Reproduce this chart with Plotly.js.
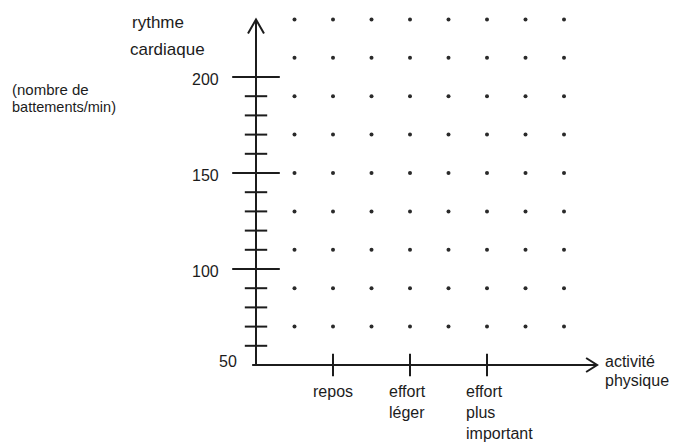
<!DOCTYPE html>
<html>
<head>
<meta charset="utf-8">
<script src="https://cdn.plot.ly/plotly-3.0.1.min.js"></script>
<style>html,body{margin:0;padding:0;background:#fff;}#chart{width:681px;height:444px;}</style>
</head>
<body>
<div id="chart"></div>
<script>
// ---- data ----
const categories = ['repos', 'effort<br>léger', 'effort<br>plus<br>important'];
const categoryPositions = [1, 2, 3];
const yTickValues = [50, 100, 150, 200];
const yTickLabels = ['50', '100', '150', '200'];
const yMajorTicks = [100, 150, 200];
const yMinorTicks = [60, 70, 80, 90, 110, 120, 130, 140, 160, 170, 180, 190];
const dotColumns = [0.5, 1, 1.5, 2, 2.5, 3, 3.5, 4];
const dotRows = [70, 90, 110, 130, 150, 170, 190, 210, 230];
const yAxisTitle = ['rythme', 'cardiaque'];
const yAxisUnit = ['(nombre de', 'battements/min)'];
const xAxisTitle = ['activité', 'physique'];

// ---- geometry (pixel scale of the drawing) ----
const W = 681, H = 444;
const originPx = 256, originPy = 365, pxPerX = 77, pxPerY = 1.92, yBase = 50;
const xRange = [-originPx / pxPerX, (W - originPx) / pxPerX];
const yRange = [yBase - (H - originPy) / pxPerY, yBase + originPy / pxPerY];
const yAxisTop = 230, xAxisEnd = 4.43, xAxisStart = -0.05;
const ink = '#1c1c1c';
const fontFam = 'Liberation Sans, Arial, sans-serif';

// dot grid built from rows/columns
const dotX = [], dotY = [];
dotRows.forEach(r => dotColumns.forEach(c => { dotX.push(c); dotY.push(r); }));

const traces = [
  { type: 'scatter', mode: 'markers', x: dotX, y: dotY, hoverinfo: 'skip',
    marker: { size: 4, color: '#2a2a2a' }, cliponaxis: false },
  { type: 'scatter', mode: 'markers', x: yMajorTicks.map(() => 0), y: yMajorTicks, hoverinfo: 'skip',
    marker: { symbol: 'line-ew', size: 34, line: { width: 2.2, color: ink } }, cliponaxis: false },
  { type: 'scatter', mode: 'markers', x: yMinorTicks.map(() => 0), y: yMinorTicks, hoverinfo: 'skip',
    marker: { symbol: 'line-ew', size: 16, line: { width: 2, color: ink } }, cliponaxis: false },
  { type: 'scatter', mode: 'markers', x: categoryPositions, y: categoryPositions.map(() => yBase), hoverinfo: 'skip',
    marker: { symbol: 'line-ns', size: 16, line: { width: 2, color: ink } }, cliponaxis: false }
];

const dx = p => p / pxPerX, dy = p => p / pxPerY;
const shapes = [
  { type: 'line', x0: 0, x1: 0, y0: yBase - dy(1), y1: yAxisTop, line: { color: ink, width: 2 } },
  { type: 'line', x0: xAxisStart, x1: xAxisEnd, y0: yBase, y1: yBase, line: { color: ink, width: 2 } },
  { type: 'path', path: `M ${-dx(8)} ${yAxisTop - dy(14)} L 0 ${yAxisTop} L ${dx(8)} ${yAxisTop - dy(14)}`,
    line: { color: ink, width: 2 } },
  { type: 'path', path: `M ${xAxisEnd - dx(11)} ${yBase + dy(7)} L ${xAxisEnd} ${yBase} L ${xAxisEnd - dx(11)} ${yBase - dy(7)}`,
    line: { color: ink, width: 2 } }
];

const f = (size) => ({ family: fontFam, size: size, color: ink });
const px2x = p => (p - originPx) / pxPerX;
const py2y = p => yBase + (originPy - p) / pxPerY;
const annotations = [];

// y tick labels
yTickValues.forEach((v, i) => {
  const isBase = v === yBase;
  annotations.push({ x: isBase ? px2x(239) : px2x(221), y: isBase ? py2y(361) : py2y(originPy - (v - yBase) * pxPerY + 2),
    xref: 'x', yref: 'y', text: yTickLabels[i], showarrow: false, xanchor: 'right', yanchor: 'middle', font: f(16) });
});
// category labels
categories.forEach((c, i) => {
  const multi = c.split('<br>').length > 2;
  annotations.push({ x: categoryPositions[i], y: py2y(381), xref: 'x', yref: 'y', text: c, showarrow: false,
    xanchor: multi ? 'left' : 'center', xshift: multi ? -23 : (c.indexOf('<br>') > 0 ? -3 : 0),
    yanchor: 'top', align: 'left', font: f(16) });
});
// axis titles
annotations.push({ x: px2x(158), y: py2y(22), xref: 'x', yref: 'y', text: yAxisTitle[0], showarrow: false, font: f(17) });
annotations.push({ x: px2x(167), y: py2y(49), xref: 'x', yref: 'y', text: yAxisTitle[1], showarrow: false, font: f(17) });
annotations.push({ x: px2x(10), y: py2y(89), xref: 'x', yref: 'y', text: yAxisUnit[0], showarrow: false, xanchor: 'left', font: f(15) });
annotations.push({ x: px2x(10), y: py2y(107), xref: 'x', yref: 'y', text: yAxisUnit[1], showarrow: false, xanchor: 'left', font: f(14.5) });
annotations.push({ x: px2x(603), y: py2y(361), xref: 'x', yref: 'y', text: xAxisTitle[0], showarrow: false, xanchor: 'left', font: f(16) });
annotations.push({ x: px2x(603), y: py2y(380), xref: 'x', yref: 'y', text: xAxisTitle[1], showarrow: false, xanchor: 'left', font: f(16) });

const layout = {
  width: W, height: H, autosize: false,
  margin: { l: 0, r: 0, t: 0, b: 0, pad: 0 },
  paper_bgcolor: '#ffffff', plot_bgcolor: '#ffffff',
  showlegend: false,
  xaxis: { range: xRange, visible: false, fixedrange: true },
  yaxis: { range: yRange, visible: false, fixedrange: true },
  shapes: shapes,
  annotations: annotations
};

Plotly.newPlot('chart', traces, layout, { displayModeBar: false, staticPlot: true });
</script>
</body>
</html>
